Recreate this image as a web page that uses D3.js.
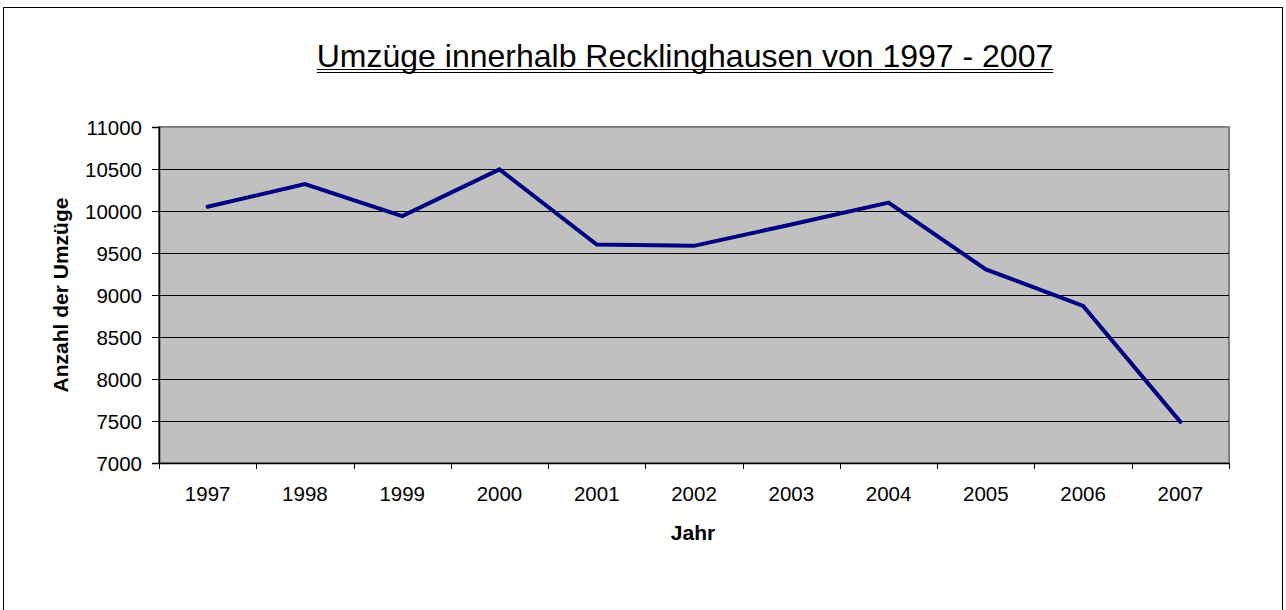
<!DOCTYPE html>
<html>
<head>
<meta charset="utf-8">
<script src="https://cdn.jsdelivr.net/npm/d3@7"></script>
<style>
  body { margin: 0; background: #fff; }
  text { font-family: "Liberation Sans", Arial, sans-serif; fill: #000; }
</style>
</head>
<body>
<div id="chart"></div>
<script>
const years = ['1997', '1998', '1999', '2000', '2001', '2002', '2003', '2004', '2005', '2006', '2007'];
const moves = [10050, 10320, 9940, 10495, 9600, 9585, 9840, 10100, 9305, 8870, 7490];
const yTicks = [7000, 7500, 8000, 8500, 9000, 9500, 10000, 10500, 11000];

const width = 1286, height = 610;
const plot = { left: 159, right: 1229, top: 127, bottom: 463 };

const svg = d3.select('#chart').append('svg')
  .attr('width', width)
  .attr('height', height);

// outer chart frame
svg.append('rect')
  .attr('x', 3.5).attr('y', 7.5)
  .attr('width', 1279).attr('height', 620)
  .attr('fill', '#fff')
  .attr('stroke', '#000')
  .attr('stroke-width', 1);

const x = d3.scaleBand().domain(years).range([plot.left, plot.right]);
const y = d3.scaleLinear().domain([7000, 11000]).range([plot.bottom, plot.top]);

// plot background
svg.append('rect')
  .attr('x', plot.left).attr('y', plot.top)
  .attr('width', plot.right - plot.left).attr('height', plot.bottom - plot.top)
  .attr('fill', '#c0c0c0')
  .attr('stroke', '#808080')
  .attr('stroke-width', 2);

// gridlines
svg.append('g')
  .selectAll('line')
  .data(yTicks.filter(d => d > 7000 && d < 11000))
  .enter().append('line')
  .attr('x1', plot.left).attr('x2', plot.right)
  .attr('y1', d => Math.round(y(d)) + 0.5)
  .attr('y2', d => Math.round(y(d)) + 0.5)
  .attr('stroke', '#000')
  .attr('stroke-width', 1);

// y axis
const yAxis = svg.append('g')
  .attr('transform', `translate(${plot.left},0)`)
  .call(d3.axisLeft(y).tickValues(yTicks).tickSize(7).tickPadding(10).tickFormat(d3.format('d')));
yAxis.select('.domain').attr('stroke', '#000').attr('stroke-width', 1.5);
yAxis.selectAll('.tick line').attr('stroke', '#000');
yAxis.selectAll('text')
  .style('font-family', '"Liberation Sans", Arial, sans-serif')
  .style('font-size', '20.5px')
  .attr('dy', '0.36em');

// x axis: ticks between categories
const xAxis = svg.append('g')
  .attr('transform', `translate(0,${plot.bottom})`)
  .call(d3.axisBottom(x).tickSize(0).tickPadding(0));
xAxis.select('.domain').attr('stroke', '#000').attr('stroke-width', 1.5);
xAxis.selectAll('text')
  .style('font-family', '"Liberation Sans", Arial, sans-serif')
  .style('font-size', '20.5px')
  .attr('y', 38)
  .attr('dy', 0);

const bounds = years.map(d => x(d)).concat([x(years[years.length - 1]) + x.bandwidth()]);
svg.append('g')
  .selectAll('line')
  .data(bounds)
  .enter().append('line')
  .attr('x1', d => Math.round(d) + 0.5).attr('x2', d => Math.round(d) + 0.5)
  .attr('y1', plot.bottom).attr('y2', plot.bottom + 6)
  .attr('stroke', '#000');

// data line
const line = d3.line()
  .x((d, i) => x(years[i]) + x.bandwidth() / 2)
  .y(d => y(d));

svg.append('path')
  .datum(moves)
  .attr('d', line)
  .attr('fill', 'none')
  .attr('stroke', '#000080')
  .attr('stroke-width', 4)
  .attr('stroke-linejoin', 'miter')
  .attr('stroke-linecap', 'round');

// title with double underline
const title = svg.append('text')
  .attr('x', 685).attr('y', 67)
  .attr('text-anchor', 'middle')
  .style('font-size', '32px')
  .text('Umzüge innerhalb Recklinghausen von 1997 - 2007');
const tw = title.node().getComputedTextLength();
[69.5, 72.5].forEach(yy => {
  svg.append('line')
    .attr('x1', 685 - tw / 2).attr('x2', 685 + tw / 2)
    .attr('y1', yy).attr('y2', yy)
    .attr('stroke', '#000').attr('stroke-width', 1);
});

// axis titles
svg.append('text')
  .attr('x', 693).attr('y', 540)
  .attr('text-anchor', 'middle')
  .style('font-size', '21px')
  .style('font-weight', 'bold')
  .text('Jahr');

svg.append('text')
  .attr('transform', 'translate(68,295) rotate(-90)')
  .attr('text-anchor', 'middle')
  .style('font-size', '21px')
  .style('font-weight', 'bold')
  .text('Anzahl der Umzüge');
</script>
</body>
</html>
